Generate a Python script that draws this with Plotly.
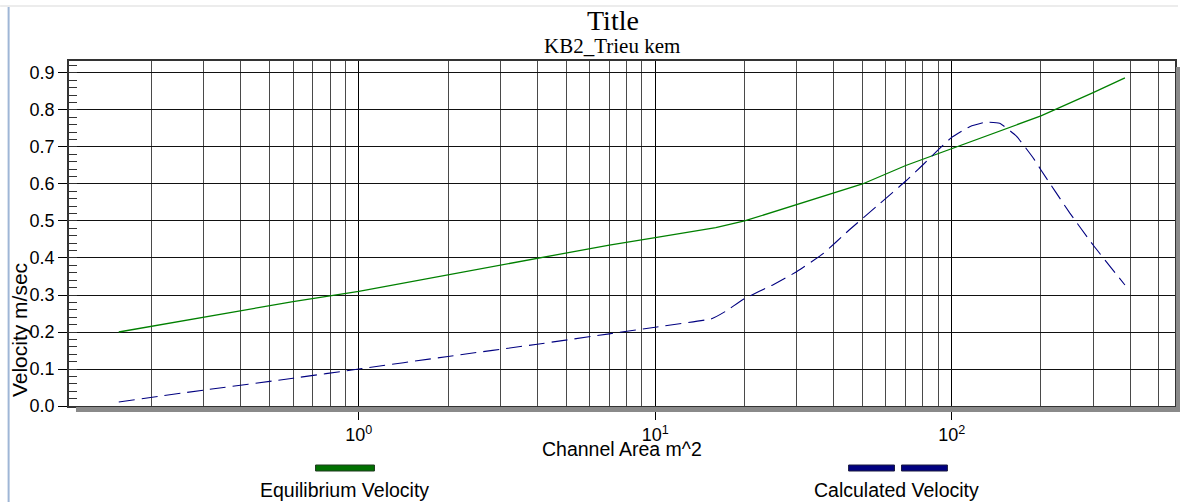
import math
import plotly.graph_objects as go

# ---- data ----
eq_area = [0.155, 0.3, 0.6, 1, 2, 4, 7, 10, 16, 20, 30, 50, 70, 100, 150, 200, 300, 384]
eq_vel = [0.200, 0.240, 0.282, 0.310, 0.355, 0.400, 0.435, 0.455, 0.482, 0.500, 0.545,
          0.600, 0.650, 0.695, 0.746, 0.784, 0.847, 0.887]

calc_area = [0.155, 0.3, 0.6, 1, 2, 4, 7, 10, 15.5, 17.2, 20, 25, 30, 37, 45, 57, 70, 80, 90,
             100, 115, 130, 145, 165, 190, 200, 250, 300, 384]
calc_vel = [0.011, 0.043, 0.075, 0.100, 0.134, 0.167, 0.195, 0.213, 0.236, 0.255, 0.290,
            0.328, 0.363, 0.413, 0.475, 0.546, 0.608, 0.652, 0.692, 0.726, 0.755, 0.767,
            0.764, 0.730, 0.666, 0.638, 0.522, 0.435, 0.327]

y_ticks = [0.0, 0.1, 0.2, 0.3, 0.4, 0.5, 0.6, 0.7, 0.8, 0.9]
x_major = [1, 10, 100]
x_major_text = ["10<sup>0</sup>", "10<sup>1</sup>", "10<sup>2</sup>"]
x_minor = [0.2, 0.3, 0.4, 0.5, 0.6, 0.7, 0.8, 0.9,
           2, 3, 4, 5, 6, 7, 8, 9,
           20, 30, 40, 50, 60, 70, 80, 90,
           200, 300, 400, 500]

series_names = ["Equilibrium Velocity", "Calculated Velocity"]
title_text = "Title"
subtitle_text = "KB2_Trieu kem"
x_title = "Channel Area m^2"
y_title = "Velocity m/sec"

# ---- layout geometry (pixels) ----
W, H = 1180, 502
L, R, T, B = 69, 1177, 61, 406


def px(x):
    return (x - L) / (R - L)


def py(y):
    return (B - y) / (B - T)


SANS = "Liberation Sans, Arial, sans-serif"
SERIF = "Liberation Serif, Times New Roman, serif"

fig = go.Figure()
fig.add_trace(go.Scatter(x=eq_area, y=eq_vel, mode="lines", name=series_names[0],
                         line=dict(color="#008000", width=1.3), showlegend=False))
fig.add_trace(go.Scatter(x=calc_area, y=calc_vel, mode="lines", name=series_names[1],
                         line=dict(color="#000080", width=1.1, dash="16px,7px",
                                   shape="spline", smoothing=0.4),
                         showlegend=False))

fig.update_layout(
    width=W, height=H, autosize=False,
    margin=dict(l=L, r=W - R, t=T, b=H - B, pad=0),
    paper_bgcolor="white", plot_bgcolor="white",
    font=dict(family=SANS, size=18, color="black"),
    showlegend=False,
)

fig.update_xaxes(
    type="log", range=[-0.9775, 2.7532],
    tickmode="array", tickvals=x_major, ticktext=x_major_text,
    ticks="outside", ticklen=12, tickcolor="black", tickwidth=1,
    tickfont=dict(family=SANS, size=18, color="black"),
    showgrid=True, gridcolor="#000000", gridwidth=1,
    minor=dict(tickvals=x_minor, showgrid=True, gridcolor="#4a4a4a", gridwidth=1, ticks=""),
    showline=True, linecolor="#333333", linewidth=1.5, mirror=True,
    zeroline=False,
)
fig.update_yaxes(
    range=[0, 0.9324],
    tickmode="array", tickvals=y_ticks, ticktext=[f"{v:.1f}" for v in y_ticks],
    ticks="outside", ticklen=9, tickcolor="black", tickwidth=1,
    tickfont=dict(family=SANS, size=18, color="black"),
    showgrid=True, gridcolor="#111111", gridwidth=1,
    minor=dict(dtick=0.02, tick0=0, ticks="inside", ticklen=8, tickcolor="#333333",
               showgrid=False),
    showline=True, linecolor="#333333", linewidth=1.5, mirror=True,
    zeroline=False,
)

shapes = []
# drop shadow of the plot frame
shapes.append(dict(type="rect", xref="paper", yref="paper",
                   x0=px(76), x1=px(1183), y0=py(407), y1=py(412),
                   fillcolor="#8a8a8a", line=dict(width=0), layer="above"))
shapes.append(dict(type="rect", xref="paper", yref="paper",
                   x0=px(1178), x1=px(1184), y0=py(67), y1=py(412),
                   fillcolor="#8a8a8a", line=dict(width=0), layer="above"))
# window frame lines
shapes.append(dict(type="line", xref="paper", yref="paper",
                   x0=px(0), x1=px(1180), y0=py(6), y1=py(6),
                   line=dict(color="#e6e6e6", width=1.5)))
shapes.append(dict(type="line", xref="paper", yref="paper",
                   x0=px(8.5), x1=px(8.5), y0=py(7), y1=py(502),
                   line=dict(color="#9fb6d6", width=2)))
# legend swatches
shapes.append(dict(type="rect", xref="paper", yref="paper",
                   x0=px(316), x1=px(375), y0=py(471), y1=py(465),
                   fillcolor="#007000", line=dict(color="#1e3a1e", width=1)))
shapes.append(dict(type="rect", xref="paper", yref="paper",
                   x0=px(850), x1=px(896), y0=py(471), y1=py(465),
                   fillcolor="#000080", line=dict(color="#1a1a40", width=1)))
shapes.append(dict(type="rect", xref="paper", yref="paper",
                   x0=px(903), x1=px(949), y0=py(471), y1=py(465),
                   fillcolor="#000080", line=dict(color="#1a1a40", width=1)))

annotations = [
    dict(text=title_text, x=px(614), y=py(21), xref="paper", yref="paper",
         showarrow=False, xanchor="center", yanchor="middle",
         font=dict(family=SERIF, size=28, color="black")),
    dict(text=subtitle_text, x=px(612.5), y=py(46), xref="paper", yref="paper",
         showarrow=False, xanchor="center", yanchor="middle",
         font=dict(family=SERIF, size=21, color="black")),
    dict(text=x_title, x=px(623), y=py(449), xref="paper", yref="paper",
         showarrow=False, xanchor="center", yanchor="middle",
         font=dict(family=SANS, size=19.5, color="black")),
    dict(text=y_title, x=px(19), y=py(330), xref="paper", yref="paper",
         showarrow=False, xanchor="center", yanchor="middle", textangle=-90,
         font=dict(family=SANS, size=21, color="black")),
    dict(text=series_names[0], x=px(345), y=py(490), xref="paper", yref="paper",
         showarrow=False, xanchor="center", yanchor="middle",
         font=dict(family=SANS, size=19.5, color="black")),
    dict(text=series_names[1], x=px(898), y=py(490), xref="paper", yref="paper",
         showarrow=False, xanchor="center", yanchor="middle",
         font=dict(family=SANS, size=19.5, color="black")),
]

fig.update_layout(shapes=shapes, annotations=annotations)
fig.write_html(
    "out.html",
    include_plotlyjs=True,
    config={"displayModeBar": False},
    post_script="document.body.style.margin='0px';document.body.style.overflow='hidden';",
)
